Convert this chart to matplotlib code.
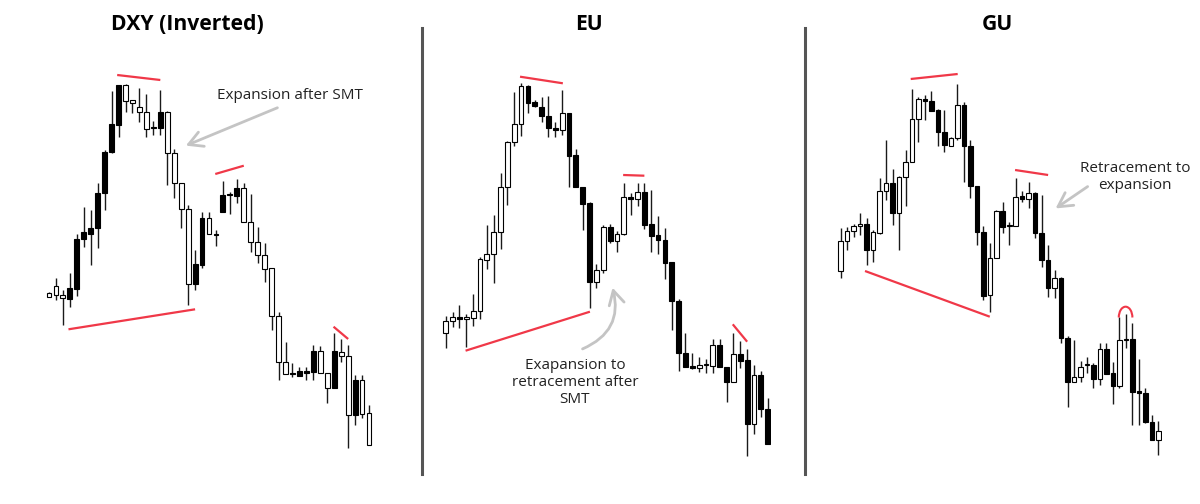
import matplotlib
matplotlib.use("Agg")
import matplotlib.pyplot as plt
from matplotlib.patches import Arc
from matplotlib.lines import Line2D
import numpy as np

# ---------------- DATA (arbitrary chart units) ----------------
titles = ["DXY (Inverted)", "EU", "GU"]

dxy_open  = [207.3,214,205,200.7,211,260.7,266,272.3,306.7,347.7,375,415,400,393.3,387.7,371.7,371.7,387.7,346.7,316.7,
             290.7,216,235,281.7,265,288.3,305,304.3,312.3,277.7,257.7,245,231.7,184.3,137.7,126,124.3,126.7,128.3,149,
             126.7,111.7,148.3,144.3,85,120,86.7]
dxy_high  = [208,221.7,210,226.7,266,293.3,290,316.7,350,409.3,415,416,400,411.7,406,379.3,410,389.3,350.7,316.7,
             295,250,288.3,288.3,270,319,308.3,320.7,316.7,306,273.3,257.3,231.7,188.3,158.3,137.3,133.3,133.3,155,154,
             126.7,166.7,160.7,155,125,125,95]
dxy_low   = [203,200,175,193.3,204,253.3,235,251.7,290,346.7,363.3,388.3,387.3,378.3,363.3,365,365,315,301.7,271.7,
             195,210,231.7,265.7,254.3,288.3,286,297.3,277.7,248.3,236.7,218.3,170,120,125.7,123.3,124.3,120,120,126.7,
             96.7,111.7,138.3,51.7,75,81.7,55]
dxy_close = [203.3,204.7,201.7,211.7,261,267.7,272.3,306.7,348.3,376,415,399.3,396.7,387.7,370.7,371.7,387.7,346.7,316.7,290.7,
             216,236,281.7,265.7,265,305,305,312.3,277.7,257.7,245,231,184.3,137.7,125.7,126,129.3,128.7,149,126.7,
             111.7,149,144.3,85,120,86,55]

eu_open  = [166.7,179,183.3,180.7,181.7,189,240,245.7,267.7,312.7,357.7,375.7,414.3,397.7,393.3,384,372,370,386.7,345,
            313.3,296.7,218.3,230,272.7,259,265.7,303.3,301,308.3,276,265,260,237.7,199,147.3,134,131.7,135,134.3,
            155,133.3,118.3,146,140,76,125,90.7]
eu_high  = [184,187.7,195,185.7,206,243.3,275,285,326.7,359.3,407.7,416.7,415,400,402.7,404.3,378.3,410,386.7,351,
            313.3,298.3,236,275,275.7,269,316.7,306.7,316.7,316.7,310,284,271.7,237.7,200.7,166.7,147.3,143.3,141,160.7,
            160.7,133.3,166.7,159.3,151,135,129.3,102.3]
eu_low   = [151.7,173.3,171.7,153.3,174,180.7,231,216.7,251,295,354,364.3,386.7,392.7,377.7,363.3,363.3,365,313.3,312.7,
            270,191.7,212.3,226.7,256.7,247.7,265,285,294.3,271,247.7,245.7,220.7,170,129.3,133.3,131,128.3,126.7,126.7,
            132.7,98.3,118.3,131.7,44.3,65.7,83.3,56]
eu_close = [179.3,183.3,180.7,182.7,189.3,240.7,246,268.3,313.3,358.3,376,414.3,396.7,394,384,371.7,370,386.7,344,313.3,
            296,218.3,230,273.3,259,265.7,302.7,301,308.3,275,264.3,260,237.3,199,146.7,133.3,132.3,135,135,155,
            132.7,118.3,146,139.3,76,125,90.7,56]

gu_open  = [229.3,259,269,274,275.7,250,267.3,309.3,316.7,287.3,322.7,337.7,381,400.7,399,390,368.3,354.3,362.3,395,
            354,314.3,268.3,205,241.7,289,274.3,274,304,301,306.7,266.7,240,211.7,221.7,161.7,117.7,123.3,135,135,
            121,150.7,126.7,114.3,160,161,109,106.7,78.3,60]
gu_high  = [271.7,273.3,275.7,286.7,281.7,270,321.7,360,330.7,324,350,411,403.3,405,409.3,391,390,363.3,416,398.3,
            360,314.3,274.3,256.7,290,298.3,278.3,321.7,309,317.7,307.7,305,255,230,223.3,164.3,160,139,143.3,136.7,
            157.3,157.3,138.3,183.3,186,176.7,140.7,111.7,85,79]
gu_low   = [221.7,250,263.3,265,235,238.3,266,300,275,250,294,337.7,358.3,380,389,354,348.3,354.3,360,318.3,
            301.7,255,200,188.3,241.7,266.7,255,274,298.3,291.7,261.7,233.3,203.3,201.7,156.7,93.3,117.7,117.7,126.7,111.7,
            115,126,95.7,111.7,151.7,75,75,76.7,60,45]
gu_close = [259,269,274.3,275.7,250,268.3,309.3,316.7,287.3,322.7,338.3,381,400.7,399.3,389,367.7,355,362.3,395,354,
            314,267.7,204,241.7,289,273.3,274.3,303.3,301,306.7,266.7,240,211.7,221.7,161.7,118.3,123.3,133.3,135,121,
            150.7,126,114.3,160,160,108.3,106.7,78.3,60,69.3]

# red level lines: (x index start, price start, x index end, price end)
dxy_lines = [(9.8, 425, 16.0, 420), (2.8, 170.7, 21.0, 190.7), (23.9, 326, 28.0, 334.3), (40.9, 173.3, 43.0, 161)]
eu_lines  = [(10.85, 423.3, 17.1, 416.7), (2.9, 149.3, 21.05, 188.3), (25.9, 325, 29.0, 324.3), (41.9, 175.7, 44.0, 158.3)]
gu_lines  = [(10.8, 421, 18.05, 426), (3.75, 229, 23.0, 183.3), (26.9, 330, 32.0, 325)]

notes = ["Expansion after SMT", "Exapansion to\nretracement after\nSMT", "Retracement to\nexpansion"]

# ---------------- LAYOUT ----------------
W, H = 1200, 504
fig = plt.figure(figsize=(12, 5.04), dpi=100)
fig.patch.set_facecolor("white")

panels = [
    dict(o=dxy_open, h=dxy_high, l=dxy_low, c=dxy_close, x0=49.0, dx=6.957, up_black=True, lines=dxy_lines, tx=187),
    dict(o=eu_open, h=eu_high, l=eu_low, c=eu_close, x0=445.7, dx=6.851, up_black=False, lines=eu_lines, tx=589),
    dict(o=gu_open, h=gu_high, l=gu_low, c=gu_close, x0=840.7, dx=6.482, up_black=False, lines=gu_lines, tx=997),
]

RED = "#f03848"
GREY = "#c4c4c4"
axes = []
for i, p in enumerate(panels):
    n = len(p["o"])
    left = (p["x0"] - 0.5 * p["dx"]) / W
    width = n * p["dx"] / W
    ax = fig.add_axes([left, 0, width, 1])
    ax.set_xlim(-0.5, n - 0.5)
    ax.set_ylim(-4, 500)
    ax.axis("off")
    o = np.array(p["o"]); c = np.array(p["c"]); hi = np.array(p["h"]); lo = np.array(p["l"])
    x = np.arange(n)
    ax.vlines(x, lo, hi, color="#1a1a1a", lw=1.0, zorder=2)
    up = c >= o
    black = up if p["up_black"] else ~up
    bottoms = np.minimum(o, c)
    heights = np.maximum(np.abs(c - o), 0.9)
    ax.bar(x, heights, bottom=bottoms, width=0.7,
           color=np.where(black, "#000000", "#ffffff"), edgecolor="#000000", linewidth=0.8, zorder=3)
    for (xa, ya, xb, yb) in p["lines"]:
        ax.plot([xa, xb], [ya, yb], color=RED, lw=1.6, solid_capstyle="butt", zorder=4)
    fig.text(p["tx"] / W, 1 - 25 / H, titles[i], ha="center", va="center",
             fontsize=15.2, fontweight="bold", family="Open Sans", color="#000000")
    axes.append(ax)

# GU small red arc over the retest high
axes[2].add_patch(Arc((43.95, 182.5), 2.1, 21.6, theta1=0, theta2=180, color=RED, lw=1.5, zorder=4))

aprops = dict(arrowstyle="->,head_length=1.0,head_width=0.55", color=GREY, lw=2.0, mutation_scale=10)
txtkw = dict(family="Open Sans", fontsize=11, color="#222222", ha="center", va="center")

ax = axes[0]
ax.text(34.6, 404.3, notes[0], **txtkw)
ax.annotate("", xy=(19.3, 353.3), xytext=(33.2, 393.3), arrowprops=aprops)

ax = axes[1]
ax.text(18.87, 117.5, notes[1], linespacing=1.2, **txtkw)
ax.annotate("", xy=(24.25, 215), xytext=(19.6, 150),
            arrowprops=dict(aprops, connectionstyle="arc3,rad=0.45"))

ax = axes[2]
ax.text(45.4, 323, notes[2], linespacing=1.2, **txtkw)
ax.annotate("", xy=(32.8, 290), xytext=(38.45, 315), arrowprops=aprops)

# panel separators
for sx in (421.7, 805.0):
    fig.add_artist(Line2D([sx / W, sx / W], [1 - 28 / H, 1 - 474 / H], color="#555555", lw=2.2))

fig.savefig("out.png", dpi=100, facecolor="white")
